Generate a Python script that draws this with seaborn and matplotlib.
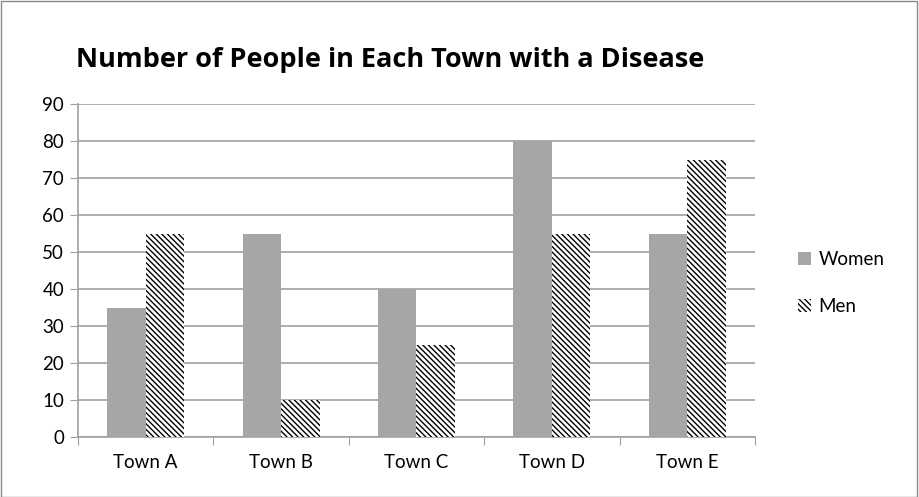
import pandas as pd
import numpy as np
import seaborn as sns
import matplotlib.pyplot as plt
from matplotlib.patches import Patch, Rectangle

towns = ['Town A', 'Town B', 'Town C', 'Town D', 'Town E']
women = [35, 55, 40, 80, 55]
men = [55, 10, 25, 55, 75]
series = ['Women', 'Men']

df = pd.DataFrame({
    'town': towns * 2,
    'count': women + men,
    'sex': ['Women'] * len(towns) + ['Men'] * len(towns),
})

sns.set_style('white')
plt.rcParams['font.family'] = ['Lato', 'DejaVu Sans']
plt.rcParams['hatch.linewidth'] = 1.0
plt.rcParams['hatch.color'] = 'black'

HATCH = '\\' * 6

fig = plt.figure(figsize=(9.19, 4.97), dpi=100)
ax = fig.add_axes([0.0849, 0.1207, 0.7366, 0.67])

sns.barplot(data=df, x='town', y='count', hue='sex', hue_order=series,
            palette={'Women': '#a6a6a6', 'Men': 'white'},
            width=0.57, gap=0, saturation=1, legend=False, ax=ax, zorder=3)

# Men bars: white with black diagonal hatch
for p in ax.patches:
    p.set_edgecolor('none')
    p.set_linewidth(0)
n = len(towns)
for p in ax.patches[n:2 * n]:
    p.set_hatch(HATCH)
    p.set_edgecolor('black')
    p.set_linewidth(0)

ax.set_ylim(0, 90)
ax.set_yticks(np.arange(0, 91, 10))
ax.set_xlim(-0.5, n - 0.5)
ax.set_xticks(np.arange(-0.5, n, 1), minor=False)
ax.set_xticks(np.arange(n), minor=True)
ax.set_xticklabels([''] * (n + 1))
ax.set_xticklabels(towns, minor=True)
ax.tick_params(axis='x', which='major', length=6, color='#a0a0a0', direction='out', bottom=True)
ax.tick_params(axis='x', which='minor', length=0, labelsize=13.5, pad=12, labelcolor='black')
ax.tick_params(axis='y', length=6, color='#a0a0a0', direction='out', left=True, labelsize=13.5, pad=4,
               labelcolor='black')
ax.grid(axis='y', color='#a0a0a0', linewidth=1.2, zorder=0)
ax.set_axisbelow(True)
ax.set_xlabel('')
ax.set_ylabel('')
for s in ['top', 'right']:
    ax.spines[s].set_visible(False)
for s in ['left', 'bottom']:
    ax.spines[s].set_color('#a0a0a0')
    ax.spines[s].set_linewidth(1.2)

fig.text(0.083, 0.879, 'Number of People in Each Town with a Disease',
         fontsize=19.5, fontweight='bold', va='center', ha='left', color='black',
         family=['Open Sans', 'DejaVu Sans'])

handles = [Patch(facecolor='#a6a6a6', edgecolor='none', label='Women'),
           Patch(facecolor='white', edgecolor='black', hatch=HATCH, linewidth=0, label='Men')]
fig.legend(handles=handles, loc='center left', bbox_to_anchor=(0.85, 0.43),
           frameon=False, fontsize=13.5, handlelength=0.7, handleheight=0.7,
           handletextpad=0.4, labelspacing=1.6, labelcolor='black')

fig.patches.append(Rectangle((0.001, 0.001), 0.997, 0.997, transform=fig.transFigure,
                             fill=False, edgecolor='#888888', linewidth=1))

fig.savefig('out.png', dpi=100)
